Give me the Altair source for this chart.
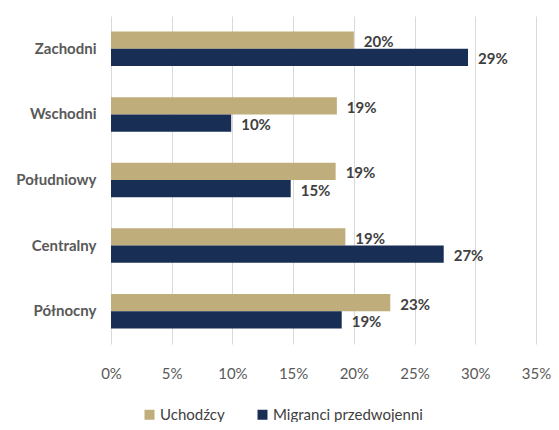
import altair as alt
import pandas as pd

categories = ["Zachodni", "Wschodni", "Południowy", "Centralny", "Północny"]
series = ["Uchodźcy", "Migranci przedwojenni"]
uchodzcy = [0.200, 0.186, 0.185, 0.193, 0.230]
migranci = [0.294, 0.099, 0.148, 0.274, 0.190]
x_ticks = [0, 0.05, 0.10, 0.15, 0.20, 0.25, 0.30, 0.35]
colors = ["#bfad7b", "#182e55"]

rows = []
for c, u, m in zip(categories, uchodzcy, migranci):
    rows.append({"region": c, "grupa": series[0], "value": u})
    rows.append({"region": c, "grupa": series[1], "value": m})
df = pd.DataFrame(rows)

FONT = "Lato"

y_enc = alt.Y("region:N", sort=categories, title=None,
              scale=alt.Scale(paddingInner=0.474, paddingOuter=0.237),
              axis=alt.Axis(domain=False, ticks=False, labelFontSize=15,
                            labelFontWeight="bold", labelColor="#595959",
                            labelFont=FONT, labelPadding=15, labelLimit=0,
                            minExtent=95, maxExtent=95))
yoff = alt.YOffset("grupa:N", sort=series,
                   scale=alt.Scale(paddingInner=0, paddingOuter=0))
x_enc = alt.X("value:Q", title=None,
              scale=alt.Scale(domain=[0, 0.35], nice=False),
              axis=alt.Axis(values=x_ticks, format=".0%", domain=False,
                            ticks=False, grid=True, gridColor="#d9d9d9",
                            labelFontSize=15, labelColor="#595959",
                            labelFont=FONT, labelPadding=22,
                            labelFlush=False))

bars = alt.Chart(df).mark_bar().encode(
    y=y_enc, yOffset=yoff, x=x_enc,
    color=alt.Color("grupa:N", sort=series,
                    scale=alt.Scale(domain=series, range=colors),
                    legend=alt.Legend(title=None, orient="none",
                                      direction="horizontal",
                                      legendX=31, legendY=391,
                                      symbolType="square", symbolSize=100,
                                      symbolStrokeWidth=0,
                                      labelFontSize=15, labelColor="#404040",
                                      labelFont=FONT, labelOffset=3,
                                      labelLimit=0, columnPadding=30)),
)

text = alt.Chart(df).mark_text(align="left", baseline="middle", dx=10, dy=2,
                               fontSize=15, fontWeight="bold",
                               color="#404040", font=FONT).encode(
    y=alt.Y("region:N", sort=categories),
    yOffset=yoff,
    x=alt.X("value:Q"),
    text=alt.Text("value:Q", format=".0%"),
)

chart = alt.layer(bars, text).properties(
    width=425, height=328,
    autosize=alt.AutoSizeParams(type="none"),
    padding={"left": 103, "top": 8, "right": 15, "bottom": 78},
).configure_view(stroke=None)

chart.save("out.html", embed_options={"renderer": "svg", "actions": False})
